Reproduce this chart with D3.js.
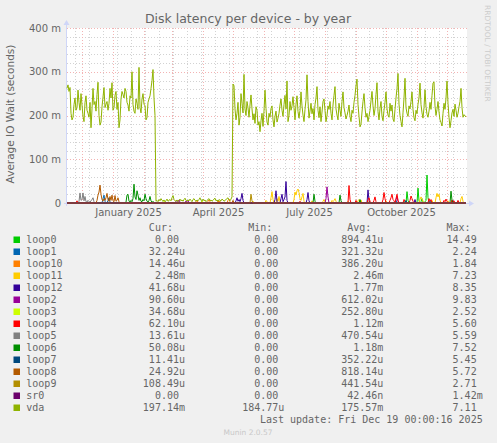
<!DOCTYPE html>
<html>
<head>
<meta charset="utf-8">
<script src="https://cdn.jsdelivr.net/npm/d3@7"></script>
<style>
  body { margin: 0; background: #f0f0f0; }
  svg { display: block; }
  text { fill: #666; font-family: "DejaVu Sans", sans-serif; }
  .mono { font-family: "DejaVu Sans Mono", monospace; font-size: 10px; }
</style>
</head>
<body>
<svg id="chart" width="497" height="443"></svg>
<script>
// values are in milliseconds ("m" on the axis), one point per day from 16 Nov 2024
const startDay = new Date(Date.UTC(2024, 10, 16));
const dayCount = 400;

const yTicks = [0, 100, 200, 300, 400];
const yTickLabels = ["0", "100 m", "200 m", "300 m", "400 m"];
const monthLabels = ["January 2025", "April 2025", "July 2025", "October 2025"];
const monthLabelDays = ["2025-01-16", "2025-04-16", "2025-07-16", "2025-10-16"];

const deviceNames = ["loop0", "loop1", "loop10", "loop11", "loop12", "loop2", "loop3",
  "loop4", "loop5", "loop6", "loop7", "loop8", "loop9", "sr0", "vda"];
const deviceColors = ["#00CC00", "#0066B3", "#FF8000", "#FFCC00", "#330099", "#990099", "#CCFF00",
  "#FF0000", "#808080", "#008F00", "#00487D", "#B35A00", "#B38F00", "#6B006B", "#8FB300"];
const curValues = ["0.00", "32.24u", "14.46u", "2.48m", "41.68u", "90.60u", "34.68u",
  "62.10u", "13.61u", "50.08u", "11.41u", "24.92u", "108.49u", "0.00", "197.14m"];
const minValues = ["0.00", "0.00", "0.00", "0.00", "0.00", "0.00", "0.00",
  "0.00", "0.00", "0.00", "0.00", "0.00", "0.00", "0.00", "184.77u"];
const avgValues = ["894.41u", "321.32u", "386.20u", "2.46m", "1.77m", "612.02u", "252.80u",
  "1.12m", "470.54u", "1.18m", "352.22u", "818.14u", "441.54u", "42.46n", "175.57m"];
const maxValues = ["14.49", "2.24", "1.84", "7.23", "8.35", "9.83", "2.52",
  "5.60", "5.59", "7.52", "5.45", "5.72", "2.71", "1.42m", "7.11"];

// loop devices: [day, value] points
const loop0 = [[0,0],[337,0],[338,4],[339,0],[340,26],[341,6],[342,0],[350,0],[351,34],[352,5],[353,0],
  [354,3],[355,10],[356,2],[357,0],[359,6],[360,64],[361,12],[362,0],[364,0],[365,4],[366,0],[399,0]];
const loop1 = [[0,0],[35,0],[36,10],[37,18],[38,4],[39,0],[328,0],[329,6],[330,0],[362,0],[363,5],[364,0],[399,0]];
const loop10 = [[0,0],[128,0],[129,3],[130,6],[131,2],[132,0],[140,0],[141,4],[142,7],[143,3],[144,0],
  [150,0],[151,5],[152,2],[153,4],[154,0],[160,0],[161,6],[162,9],[163,3],[164,0],[399,0]];
const loop11 = [[0,0],[185,0],[186,4],[187,0],[198,0],[199,6],[200,3],[201,0],[203,0],[204,12],[205,26],
  [206,8],[207,0],[209,0],[210,10],[211,4],[212,15],[213,3],[214,0],[226,0],[227,8],[228,25],[229,18],
  [230,28],[231,32],[232,24],[233,10],[234,6],[235,14],[236,22],[237,4],[238,0],[244,0],[245,5],[246,0],
  [255,0],[256,4],[257,8],[258,3],[259,0],[264,0],[265,6],[266,3],[267,6],[268,10],[269,4],[270,0],
  [280,0],[281,4],[282,0],[290,0],[291,5],[292,8],[293,3],[294,7],[295,0],[300,0],[301,4],[302,0],
  [318,0],[319,5],[320,0],[352,0],[353,8],[354,14],[355,10],[356,4],[357,0],[364,0],[365,6],[366,0],
  [368,0],[369,12],[370,22],[371,14],[372,20],[373,6],[374,0],[380,0],[381,5],[382,0],
  [393,0],[394,10],[395,15],[396,4],[397,0],[399,0]];
const loop12 = [[0,0],[168,0],[169,5],[170,12],[171,4],[172,8],[173,3],[174,10],[175,22],[176,6],[177,0],
  [207,0],[208,8],[209,28],[210,4],[211,0],[213,0],[214,10],[215,20],[216,3],[217,8],[218,14],[219,49],
  [220,6],[221,0],[239,0],[240,8],[241,24],[242,5],[243,0],[300,0],[301,30],[302,6],[303,0],
  [347,0],[348,8],[349,0],[385,0],[386,6],[387,0],[399,0]];
const loop2 = [[0,0],[108,0],[109,4],[110,6],[111,3],[112,7],[113,2],[114,0],[118,0],[119,5],[120,3],
  [121,6],[122,0],[258,0],[259,10],[260,37],[261,14],[262,0],[328,0],[329,8],[330,15],[331,4],[332,0],[399,0]];
const loop3 = [[0,0],[96,0],[97,4],[98,0],[134,0],[135,5],[136,0],[399,0]];
const loop4 = [[0,0],[9,0],[10,5],[11,0],[232,0],[233,4],[234,0],[281,0],[282,40],[283,8],[284,0],
  [288,0],[289,6],[290,0],[300,0],[301,8],[302,12],[303,4],[304,0],[306,0],[307,6],[308,14],[309,3],[310,0],
  [315,0],[316,8],[317,24],[318,10],[319,0],[322,0],[323,6],[324,12],[325,20],[326,8],[327,5],[328,0],
  [329,10],[330,20],[331,6],[332,0],[336,0],[337,8],[338,4],[339,0],[342,0],[343,6],[344,16],[345,10],
  [346,4],[347,0],[361,0],[362,10],[363,4],[364,8],[365,0],[376,0],[377,6],[378,3],[379,9],[380,4],[381,0],
  [384,0],[385,7],[386,2],[387,5],[388,0],[390,0],[391,6],[392,0],[399,0]];
const loop5 = [[0,0],[11,0],[12,4],[13,23],[14,6],[15,8],[16,23],[17,5],[18,15],[19,3],[20,2],[21,6],
  [22,3],[23,2],[24,5],[25,8],[26,12],[27,3],[28,0],[399,0]];
const loop6 = [[0,0],[58,0],[59,2],[60,18],[61,20],[62,4],[63,2],[64,6],[65,3],[66,10],[67,43],[68,14],
  [69,8],[70,28],[71,18],[72,6],[73,12],[74,4],[75,3],[76,8],[77,5],[78,20],[79,10],[80,4],[81,2],[82,6],
  [83,15],[84,5],[85,2],[86,3],[87,2],[88,0],[246,0],[247,20],[248,4],[249,0],[272,0],[273,18],[274,5],
  [275,0],[292,0],[293,8],[294,0],[383,0],[384,27],[385,6],[386,0],[399,0]];
const loop7 = [[0,0],[40,0],[41,5],[42,12],[43,3],[44,0],[338,0],[339,6],[340,0],[399,0]];
const loop8 = [[0,0],[29,0],[30,6],[31,18],[32,25],[33,41],[34,20],[35,8],[36,4],[37,10],[38,6],[39,12],
  [40,22],[41,8],[42,4],[43,15],[44,6],[45,18],[46,5],[47,3],[48,17],[49,4],[50,6],[51,12],[52,3],[53,0],
  [165,0],[166,6],[167,0],[399,0]];
const loop9 = [[0,0],[183,0],[184,20],[185,5],[186,0],[399,0]];
const sr0 = [[0,0],[399,0]];

// vda: daily values
const vda = [
  262,270,255,264,205,190,196,225,240,212,218,258,230,212,250,224,198,186,230,245,
  212,205,196,230,172,215,262,225,232,210,248,276,200,178,185,220,242,264,218,226,
  232,212,228,262,240,275,212,218,246,255,214,230,172,190,238,255,248,240,262,255,
  230,224,210,245,240,300,225,210,205,238,228,214,310,218,206,238,250,226,222,190,
  195,230,238,245,262,280,305,240,200,
  4,6,3,8,5,10,6,4,7,3,5,9,4,6,8,5,12,17,8,5,
  4,7,3,6,9,5,7,4,8,11,6,4,7,5,9,6,3,8,10,6,
  4,7,5,8,12,6,4,9,5,7,3,6,8,10,5,7,4,6,9,11,
  5,7,4,8,6,5,9,7,4,6,8,10,12,7,5,9,14,
  272,268,215,190,205,230,178,196,250,228,206,294,215,200,232,218,196,224,247,215,
  190,204,182,220,212,178,186,163,188,205,175,210,258,216,185,178,205,196,216,222,
  190,174,198,210,185,194,205,224,238,212,198,225,246,215,279,186,200,232,212,222,
  243,218,190,226,245,209,194,212,254,222,201,186,214,236,293,232,194,210,228,204,
  216,190,225,240,266,212,195,220,186,208,232,238,212,186,200,222,214,232,205,190,
  224,246,266,215,201,190,228,212,198,232,254,218,206,192,200,210,224,198,186,212,
  205,230,246,268,283,225,198,174,180,208,232,250,218,196,205,186,198,212,234,255,
  222,200,215,248,275,209,190,216,232,198,188,212,230,254,215,201,196,228,210,224,
  192,186,214,240,262,296,226,200,186,174,206,240,285,218,205,198,222,215,232,254,
  214,195,188,212,204,226,240,274,225,206,194,218,259,220,203,196,210,230,214,246,
  274,277,222,200,214,232,208,190,184,176,205,228,214,240,279,228,196,172,188,206,
  214,198,226,212,196,205,220,232,262,218,196,202,199,197
];

const svg = d3.select("#chart");
const plotLeft = 67, plotRight = 467, plotTop = 28, plotBottom = 203;

const x = d3.scaleUtc()
  .domain([startDay, d3.utcDay.offset(startDay, dayCount)])
  .range([plotLeft, plotRight]);
const y = d3.scaleLinear().domain([0, 400]).range([plotBottom, plotTop]);
const dayX = (d) => x(d3.utcDay.offset(startDay, d));

// canvas
svg.append("rect").attr("x", plotLeft).attr("y", plotTop)
  .attr("width", plotRight - plotLeft).attr("height", plotBottom - plotTop)
  .attr("fill", "#ffffff");

// grid
const minorColor = "#d2d2d2", majorColor = "#f3b3b3";
const grid = svg.append("g").attr("shape-rendering", "crispEdges").attr("stroke-width", 1)
  .attr("stroke-dasharray", "1,2");
const minorDays = d3.utcDay.range(new Date(Date.UTC(2024, 10, 24)), x.domain()[1], 14);
grid.selectAll(".vmin").data(minorDays).join("line")
  .attr("x1", (d) => Math.round(x(d)) + 0.5).attr("x2", (d) => Math.round(x(d)) + 0.5)
  .attr("y1", plotTop).attr("y2", plotBottom)
  .attr("stroke", minorColor);
grid.selectAll(".hmin").data(y.ticks(20).filter((v) => v % 100 !== 0)).join("line")
  .attr("x1", plotLeft).attr("x2", plotRight)
  .attr("y1", (d) => Math.round(y(d)) + 0.5).attr("y2", (d) => Math.round(y(d)) + 0.5)
  .attr("stroke", minorColor);
grid.selectAll(".vmaj").data(x.ticks(d3.utcMonth.every(1))).join("line")
  .attr("x1", (d) => Math.round(x(d)) + 0.5).attr("x2", (d) => Math.round(x(d)) + 0.5)
  .attr("y1", plotTop).attr("y2", plotBottom)
  .attr("stroke", majorColor);
grid.selectAll(".hmaj").data(yTicks.slice(1)).join("line")
  .attr("x1", plotLeft).attr("x2", plotRight)
  .attr("y1", (d) => Math.round(y(d)) + 0.5).attr("y2", (d) => Math.round(y(d)) + 0.5)
  .attr("stroke", majorColor);

// axes lines and arrows
const axisColor = "#CFD6F8";
svg.append("line").attr("x1", plotLeft - 0.5).attr("x2", plotLeft - 0.5)
  .attr("y1", plotBottom + 3).attr("y2", plotTop - 4).attr("stroke", axisColor);
svg.append("path")
  .attr("d", `M${plotLeft - 3.5},${plotTop - 3} L${plotLeft - 0.5},${plotTop - 8} L${plotLeft + 2.5},${plotTop - 3} Z`)
  .attr("fill", axisColor);
svg.append("line").attr("x1", plotLeft - 3).attr("x2", plotRight + 3)
  .attr("y1", plotBottom + 0.5).attr("y2", plotBottom + 0.5).attr("stroke", axisColor);
svg.append("path")
  .attr("d", `M${plotRight + 2},${plotBottom - 2.5} L${plotRight + 7},${plotBottom + 0.5} L${plotRight + 2},${plotBottom + 3.5} Z`)
  .attr("fill", axisColor);

// tick labels
const yAxis = d3.axisLeft(y).tickValues(yTicks).tickSize(0).tickPadding(6)
  .tickFormat((d, i) => yTickLabels[i]);
svg.append("g").attr("transform", `translate(${plotLeft},0)`).call(yAxis)
  .call((g) => g.select(".domain").remove())
  .selectAll("text").attr("font-size", 10).attr("font-family", "DejaVu Sans");

const xAxis = d3.axisBottom(x).tickValues(monthLabelDays.map((s) => new Date(s + "T00:00:00Z")))
  .tickSize(0).tickPadding(6).tickFormat((d, i) => monthLabels[i]);
svg.append("g").attr("transform", `translate(0,${plotBottom})`).call(xAxis)
  .call((g) => g.select(".domain").remove())
  .selectAll("text").attr("font-size", 10).attr("font-family", "DejaVu Sans");

// data lines
const line = d3.line().x((p) => dayX(p[0])).y((p) => y(p[1]));
const loopSeries = [loop0, loop1, loop10, loop11, loop12, loop2, loop3, loop4, loop5, loop6, loop7, loop8, loop9, sr0];
const plot = svg.append("g");
loopSeries.forEach((pts, i) => {
  plot.append("path").attr("d", line(pts)).attr("fill", "none")
    .attr("stroke", deviceColors[i]).attr("stroke-width", 1);
});
plot.append("path").attr("d", line(vda.map((v, i) => [i, v]))).attr("fill", "none")
  .attr("stroke", deviceColors[14]).attr("stroke-width", 1);

// titles
svg.append("text").attr("x", 248).attr("y", 23).attr("text-anchor", "middle")
  .attr("font-size", 12.5).text("Disk latency per device - by year");
svg.append("text").attr("transform", "translate(14,114) rotate(-90)").attr("text-anchor", "middle")
  .attr("font-size", 10.5).text("Average IO Wait (seconds)");
svg.append("text").attr("transform", "translate(485,5) rotate(90)").attr("text-anchor", "start")
  .attr("font-size", 7.5).style("fill", "#cccccc").text("RRDTOOL / TOBI OETIKER");

// legend
const cw = 6.02;
const colEnds = [185, 284.3, 383.3, 482.7];
const headers = ["Cur:", "Min:", "Avg:", "Max:"];
const legend = svg.append("g");
headers.forEach((h, j) => {
  legend.append("text").attr("class", "mono").attr("x", colEnds[j] - 2 * cw).attr("y", 231)
    .attr("text-anchor", "end").text(h);
});
const columns = [curValues, minValues, avgValues, maxValues];
deviceNames.forEach((name, i) => {
  const by = 243 + i * 12;
  legend.append("rect").attr("x", 13.5).attr("y", by - 6.5).attr("width", 6.5).attr("height", 6.5)
    .attr("fill", deviceColors[i]);
  legend.append("text").attr("class", "mono").attr("x", 26.3).attr("y", by).text(name);
  columns.forEach((col, j) => {
    const s = col[i];
    const hasUnit = /[a-z]$/.test(s);
    const num = hasUnit ? s.slice(0, -1) : s;
    legend.append("text").attr("class", "mono").attr("x", colEnds[j] - cw).attr("y", by)
      .attr("text-anchor", "end").text(num);
    if (hasUnit) {
      legend.append("text").attr("class", "mono").attr("x", colEnds[j] - cw).attr("y", by).text(s.slice(-1));
    }
  });
});
legend.append("text").attr("class", "mono").attr("x", colEnds[3]).attr("y", 423)
  .attr("text-anchor", "end").text("Last update: Fri Dec 19 00:00:16 2025");
svg.append("text").attr("x", 248).attr("y", 435).attr("text-anchor", "middle")
  .attr("font-size", 7.5).style("fill", "#c8c8c8").text("Munin 2.0.57");
</script>
</body>
</html>
